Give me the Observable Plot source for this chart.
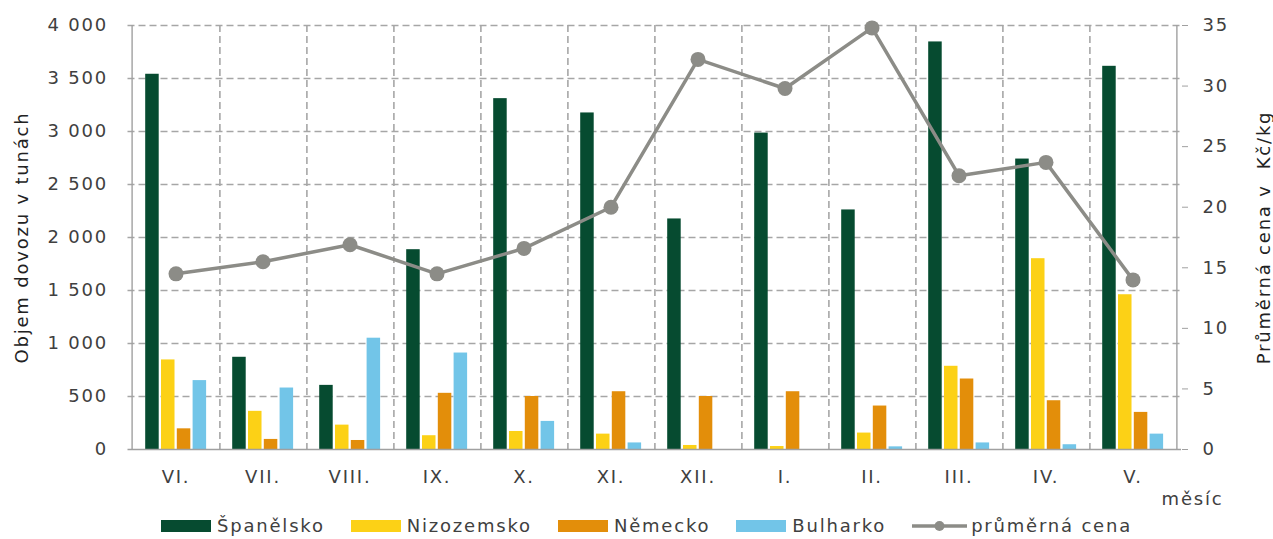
<!DOCTYPE html>
<html>
<head>
<meta charset="utf-8">
<script src="https://cdn.jsdelivr.net/npm/d3@7"></script>
<script src="https://cdn.jsdelivr.net/npm/@observablehq/plot@0.6"></script>
<style>
  html, body { margin: 0; padding: 0; background: #fff; }
  #chart svg text { white-space: pre; }
  .legend { display: flex; justify-content: center; align-items: center; height: 27px;
    font-family: "DejaVu Sans", sans-serif; font-size: 18px; letter-spacing: 1.8px; color: #404040;
    padding-left: 20px; }
  .legend .item { display: flex; align-items: center; margin: 0 13px; }
  .legend .sw { width: 50px; height: 12px; margin-right: 6px; }
</style>
</head>
<body>
<div id="chart"></div>
<div class="legend" id="legend"></div>
<script>
const months = ["VI.", "VII.", "VIII.", "IX.", "X.", "XI.", "XII.", "I.", "II.", "III.", "IV.", "V."];
const seriesNames = ["Španělsko", "Nizozemsko", "Německo", "Bulharko"];
const spanelsko  = [3540, 870, 605, 1885, 3310, 3175, 2175, 2985, 2260, 3845, 2740, 3615];
const nizozemsko = [845, 360, 230, 130, 170, 145, 38, 28, 155, 785, 1800, 1460];
const nemecko    = [195, 95, 85, 530, 500, 545, 500, 545, 410, 665, 460, 350];
const bulharko   = [650, 580, 1050, 910, 265, 62, 0, 0, 25, 62, 45, 145];
const cena       = [14.5, 15.5, 16.9, 14.5, 16.6, 20.0, 32.2, 29.8, 34.8, 22.6, 23.7, 14.0];
const leftTicks  = [0, 500, 1000, 1500, 2000, 2500, 3000, 3500, 4000];
const rightTicks = [0, 5, 10, 15, 20, 25, 30, 35];
const colors = ["#064b30", "#fcd116", "#e38e0a", "#72c5e8"];
const lineColor = "#8c8c87";
const lineLabel = "průměrná cena";

const W = 1273, H = 512;
const mL = 127.5, mR = 92, mT = 25, mB = 63;
const bw = (W - mL - mR) / months.length;
const LMAX = 4000, RMAX = 35;
const toLeft = v => v * LMAX / RMAX;

const seriesValues = [spanelsko, nizozemsko, nemecko, bulharko];
const barData = seriesValues.map((vals, k) => months.map((m, i) => ({month: m, series: seriesNames[k], value: vals[i]})));
const priceData = months.map((m, i) => ({month: m, price: cena[i]}));

const loc = d3.formatLocale({decimal: ",", thousands: " ", grouping: [3], currency: ["", ""]});
const fmt = loc.format(",");

const barW = 14.3, step = 15.8, off0 = 13.2;
const gridStyle = {stroke: "#a6a6a6", strokeOpacity: 1, strokeWidth: 1.6, strokeDasharray: "7,4"};
const axisLine = {stroke: "#a0a0a0", strokeOpacity: 1, strokeWidth: 1.4, strokeDasharray: null};

const plot = Plot.plot({
  width: W, height: H,
  marginLeft: mL, marginRight: mR, marginTop: mT, marginBottom: mB,
  style: {fontFamily: "DejaVu Sans, sans-serif", fontSize: "18px", letterSpacing: "1.8px", color: "#404040", background: "#fff"},
  x: {type: "band", domain: months, padding: 0, label: null},
  y: {domain: [0, LMAX], label: null},
  marks: [
    Plot.gridY(leftTicks.slice(1), gridStyle),
    Plot.gridX(months.slice(0, -1), {...gridStyle, dx: bw / 2}),
    Plot.gridX([months[0]], {...axisLine, dx: -bw / 2}),
    Plot.gridX([months[months.length - 1]], {...axisLine, dx: bw / 2}),
    ...barData.map((d, k) => Plot.barY(d, {
      x: "month", y: "value", fill: colors[k],
      insetLeft: off0 + k * step,
      insetRight: bw - (off0 + k * step) - barW
    })),
    Plot.ruleY([0], {stroke: "#a0a0a0", strokeWidth: 1.5}),
    Plot.axisY(leftTicks, {anchor: "left", tickSize: 0, tickPadding: 20, tickFormat: fmt, label: null}),
    Plot.axisY(rightTicks.map(toLeft), {anchor: "right", tickSize: 6, tickPadding: 15, stroke: "#a0a0a0",
      tickFormat: d => String(Math.round(d * RMAX / LMAX)), label: null}),
    Plot.axisX({anchor: "bottom", tickSize: 0, tickPadding: 21, label: null}),
    Plot.line(priceData, {x: "month", y: d => toLeft(d.price), stroke: lineColor, strokeWidth: 3.5}),
    Plot.dot(priceData, {x: "month", y: d => toLeft(d.price), r: 7.5, fill: lineColor, stroke: "none"}),
    Plot.text(["Objem dovozu v tunách"], {text: d => d, frameAnchor: "left", textAnchor: "middle", rotate: -90, dx: -105.5, fill: "#222"}),
    Plot.text(["Průměrná cena v  Kč/kg"], {text: d => d, frameAnchor: "right", textAnchor: "middle", rotate: -90, dx: 83, fill: "#222"}),
    Plot.text(["měsíc"], {text: d => d, frameAnchor: "bottom-right", textAnchor: "middle", dx: 11, dy: 55, fill: "#404040"})
  ]
});
document.getElementById("chart").appendChild(plot);

// legend
const legend = document.getElementById("legend");
seriesNames.forEach((name, k) => {
  const it = document.createElement("div");
  it.className = "item";
  it.innerHTML = `<div class="sw" style="background:${colors[k]}"></div><span>${name}</span>`;
  legend.appendChild(it);
});
const li = document.createElement("div");
li.className = "item";
li.innerHTML = `<svg width="55" height="14" style="margin-right:4px"><line x1="0" y1="7" x2="55" y2="7" stroke="${lineColor}" stroke-width="3.5"/><circle cx="27.5" cy="7" r="5" fill="${lineColor}"/></svg><span>${lineLabel}</span>`;
legend.appendChild(li);
</script>
</body>
</html>
